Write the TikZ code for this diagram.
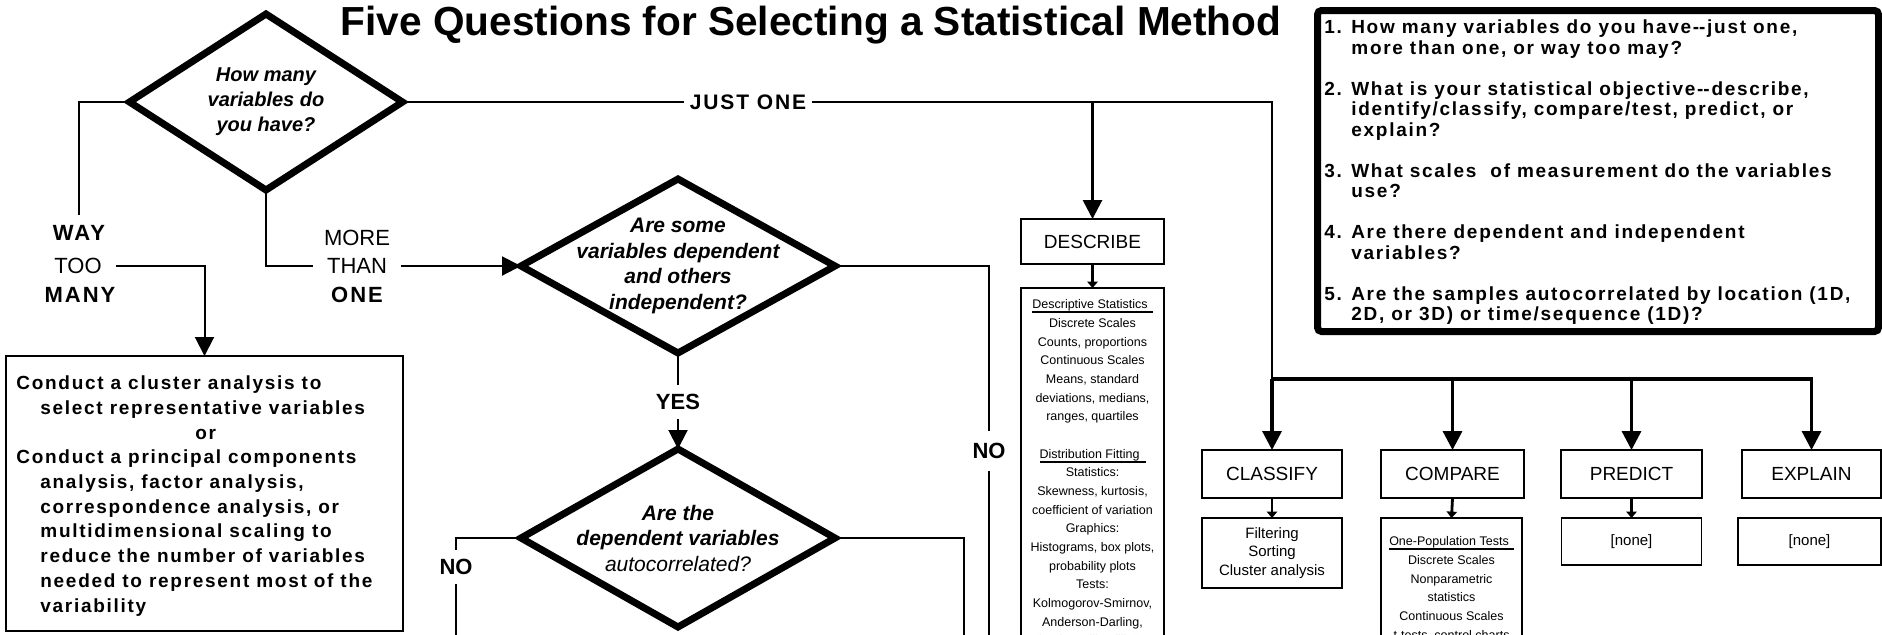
\documentclass[tikz,border=0pt]{standalone}
\usepackage{fontspec}
\setmainfont{Liberation Sans}
\newfontfamily\lsb[LetterSpace=9]{Liberation Sans}
\usetikzlibrary{arrows.meta,shapes.geometric}
\newcommand\setfs[2]{\fontsize{#1}{#2}\selectfont}
\newcommand\myul[2]{\setbox0=\hbox{#1\hspace*{#2}}\rlap{\rule[-2.25pt]{\wd0}{1pt}}\box0}
\begin{document}
\begin{tikzpicture}[x=0.5pt,y=-0.5pt,
  conn/.style={line width=1pt},
  tk/.style={line width=1.4pt},
  busln/.style={line width=1.65pt},
  bigtip/.style={-{Triangle[length=9.5pt,width=9.5pt]}},
  smalltip/.style={-{Triangle[length=3.2pt,width=5.2pt]}},
  dia/.style={shape=diamond,draw,line width=3.5pt,inner sep=0pt,outer sep=0pt},
  dtext/.style={align=center,inner sep=0pt,font=\setfs{10.5pt}{12.75pt}\bfseries\itshape},
  box/.style={draw,line width=0.8pt,inner sep=0pt,outer sep=0pt},
  catbox/.style={box,minimum height=24pt,font=\setfs{9.5pt}{11pt}},
  lbl/.style={inner sep=0pt,outer sep=0pt,font=\setfs{11pt}{13pt}},
  lblb/.style={lbl,font=\setfs{11pt}{13pt}\bfseries},
  lbls/.style={lbl,font=\lsb\bfseries\setfs{11pt}{13pt}},
  small/.style={align=center,inner sep=0pt,font=\setfs{6.25pt}{9.33pt}}]
\useasboundingbox (0,0) rectangle (1882,634);
\clip (0,0) rectangle (1882,634);

% title
\node[anchor=base,inner sep=0pt,font=\setfs{20.3pt}{24pt}\bfseries] (title) at (811,35) {Five Questions for Selecting a Statistical Method};

% diamonds
\node[dia,minimum width=136.5pt,minimum height=88pt] (d1) at (266,102) {};
\node[dtext,font=\setfs{10pt}{12.5pt}\bfseries\itshape] (d1t) at (266,102) {How many\\variables do\\you have?};
\node[dia,minimum width=157pt,minimum height=87pt] (d2) at (678,266) {};
\node[dtext] (d2t) at (678,266) {Are some\\variables dependent\\and others\\independent?};
\node[dia,minimum width=157pt,minimum height=89pt] (d3) at (678,538) {};
\node[dtext] (d3t) at (678,538) {Are the\\dependent variables\\{\mdseries autocorrelated?}};

% labels
\node[lbls,inner ysep=5pt] (way) at (79,233) {WAY};
\node[lbl,inner xsep=7pt] (too) at (78,266) {TOO};
\node[lbls] (many) at (80,295) {MANY};
\node[lbl] (more) at (357,238) {MORE};
\node[lbl,inner xsep=7pt] (than) at (357,266) {THAN};
\node[lbls] (one) at (357,295) {ONE};
\node[lblb,inner ysep=4.5pt] (yes) at (678,402) {YES};
\node[lblb,inner ysep=6pt] (no1) at (989,451) {NO};
\node[lblb,inner ysep=4.5pt] (no2) at (456,567) {NO};
\node[inner xsep=3pt,inner ysep=0pt,outer sep=0pt,font=\lsb\bfseries\setfs{10.5pt}{12pt}] (just) at (748,102) {JUST ONE};

% cluster box
\node[box,line width=1pt,minimum width=198.5pt,minimum height=137.5pt] (clusterbox) at (204.5,493.5) {};
\node[anchor=west,align=left,inner sep=0pt,font=\lsb\bfseries\setfs{9.5pt}{12.35pt}] (clustertext) at (16,496) {Conduct a cluster analysis to\\
\hspace*{12pt}select representative variables\\
\hspace*{89.5pt}or\\
Conduct a principal components\\
\hspace*{12pt}analysis, factor analysis,\\
\hspace*{12pt}correspondence analysis, or\\
\hspace*{12pt}multidimensional scaling to\\
\hspace*{12pt}reduce the number of variables\\
\hspace*{12pt}needed to represent most of the\\
\hspace*{12pt}variability};

% questions box
\node[box,line width=3.5pt,rounded corners=2pt,minimum width=280.5pt,minimum height=160.5pt] (qbox) at (1598,171) {};
\node[anchor=north west,align=left,inner sep=0pt,font=\lsb\bfseries\setfs{9.5pt}{10.25pt}] (qtext) at (1324,19.5) {1. How many variables do you have-\kern0pt-just one,\\
\hspace*{13.5pt}more than one, or way too may?\\[10.25pt]
2. What is your statistical objective-\kern0pt-describe,\\
\hspace*{13.5pt}identify/classify, compare/test, predict, or\\
\hspace*{13.5pt}explain?\\[10.25pt]
3. What scales\ \ of measurement do the variables\\
\hspace*{13.5pt}use?\\[10.25pt]
4. Are there dependent and independent\\
\hspace*{13.5pt}variables?\\[10.25pt]
5. Are the samples autocorrelated by location (1D,\\
\hspace*{13.5pt}2D, or 3D) or time/sequence (1D)?};

% category boxes
\node[catbox,minimum width=71.5pt,minimum height=22.5pt] (describe) at (1092.5,241.5) {DESCRIBE};
\node[box,anchor=north,minimum width=71.5pt,minimum height=200pt] (descbox) at (1092.5,288) {};
\node[small,anchor=north] (desctext) at (1092.5,299.5) {\myul{Descriptive Statistics}{2.5pt}\\
Discrete Scales\\
Counts, proportions\\
Continuous Scales\\
Means, standard\\
deviations, medians,\\
ranges, quartiles\\[9.33pt]
\myul{Distribution Fitting}{3pt}\\
Statistics:\\
Skewness, kurtosis,\\
coefficient of variation\\
Graphics:\\
Histograms, box plots,\\
probability plots\\
Tests:\\
Kolmogorov-Smirnov,\\
Anderson-Darling,\\
Shapiro-Wilk, Lilliefors};

\node[catbox,minimum width=70pt] (classify) at (1272,474) {CLASSIFY};
\node[catbox,minimum width=71.5pt] (compare) at (1452.5,474) {COMPARE};
\node[catbox,minimum width=70.5pt] (predict) at (1631.5,474) {PREDICT};
\node[catbox,minimum width=69.5pt] (explain) at (1811.5,474) {EXPLAIN};

\node[box,minimum width=70pt,minimum height=35pt,align=center,font=\setfs{7.5pt}{9.25pt}] (filterbox) at (1272,553) {Filtering\\Sorting\\Cluster analysis};
\node[box,anchor=north,minimum width=70.5pt,minimum height=100pt] (comparebox) at (1451.5,518) {};
\node[small,anchor=north] (comparetext) at (1451.5,536.5) {\myul{One-Population Tests}{2.5pt}\\
Discrete Scales\\
Nonparametric\\
statistics\\
Continuous Scales\\
t-tests, control charts};
\node[box,minimum width=70pt,minimum height=23.5pt,font=\setfs{7.5pt}{9pt}] (predictnone) at (1631.5,541.5) {[none]};
\node[box,minimum width=71.5pt,minimum height=23.5pt,font=\setfs{7.5pt}{9pt}] (explainnone) at (1809.5,541.5) {[none]};

% connectors
\coordinate (busL) at (1272,379);
\coordinate (busR) at (1811.5,379);
\coordinate (bottom) at (0,660);
\coordinate (d3r) at (964,660);

\draw[conn] (d1.west) -| (way.north);
\draw[conn,bigtip] (too.east) -| (clusterbox.north);
\draw[conn] (d1.south) |- (than.west);
\draw[conn,bigtip] (than.east) -- (d2.west);
\draw[conn] (d1.east) -- (just.west);
\draw[conn] (just.east) -| (busL);
\draw[tk,bigtip] (just.east -| describe.north) -- (describe.north);
\draw[conn] (d2.east) -| (no1.north);
\draw[conn] (no1.south) -- (no1.south |- bottom);
\draw[conn] (d2.south) -- (yes.north);
\draw[conn,bigtip] (yes.south) -- (d3.north);
\draw[conn] (d3.west) -| (no2.north);
\draw[conn] (no2.south) -- (no2.south |- bottom);
\draw[conn] (d3.east) -| (d3r);

\draw[busln,bigtip] (busL) -- (classify.north);
\draw[busln,bigtip] (busL) -- (busR) -- (explain.north);
\draw[busln,bigtip] (compare.north |- busL) -- (compare.north);
\draw[busln,bigtip] (predict.north |- busL) -- (predict.north);

\draw[tk,smalltip] (describe.south) -- (descbox.north);
\draw[tk,smalltip] (classify.south) -- (filterbox.north);
\draw[tk,smalltip] (compare.south) -- (comparebox.north);
\draw[tk,smalltip] (predict.south) -- (predictnone.north);
\end{tikzpicture}
\end{document}
